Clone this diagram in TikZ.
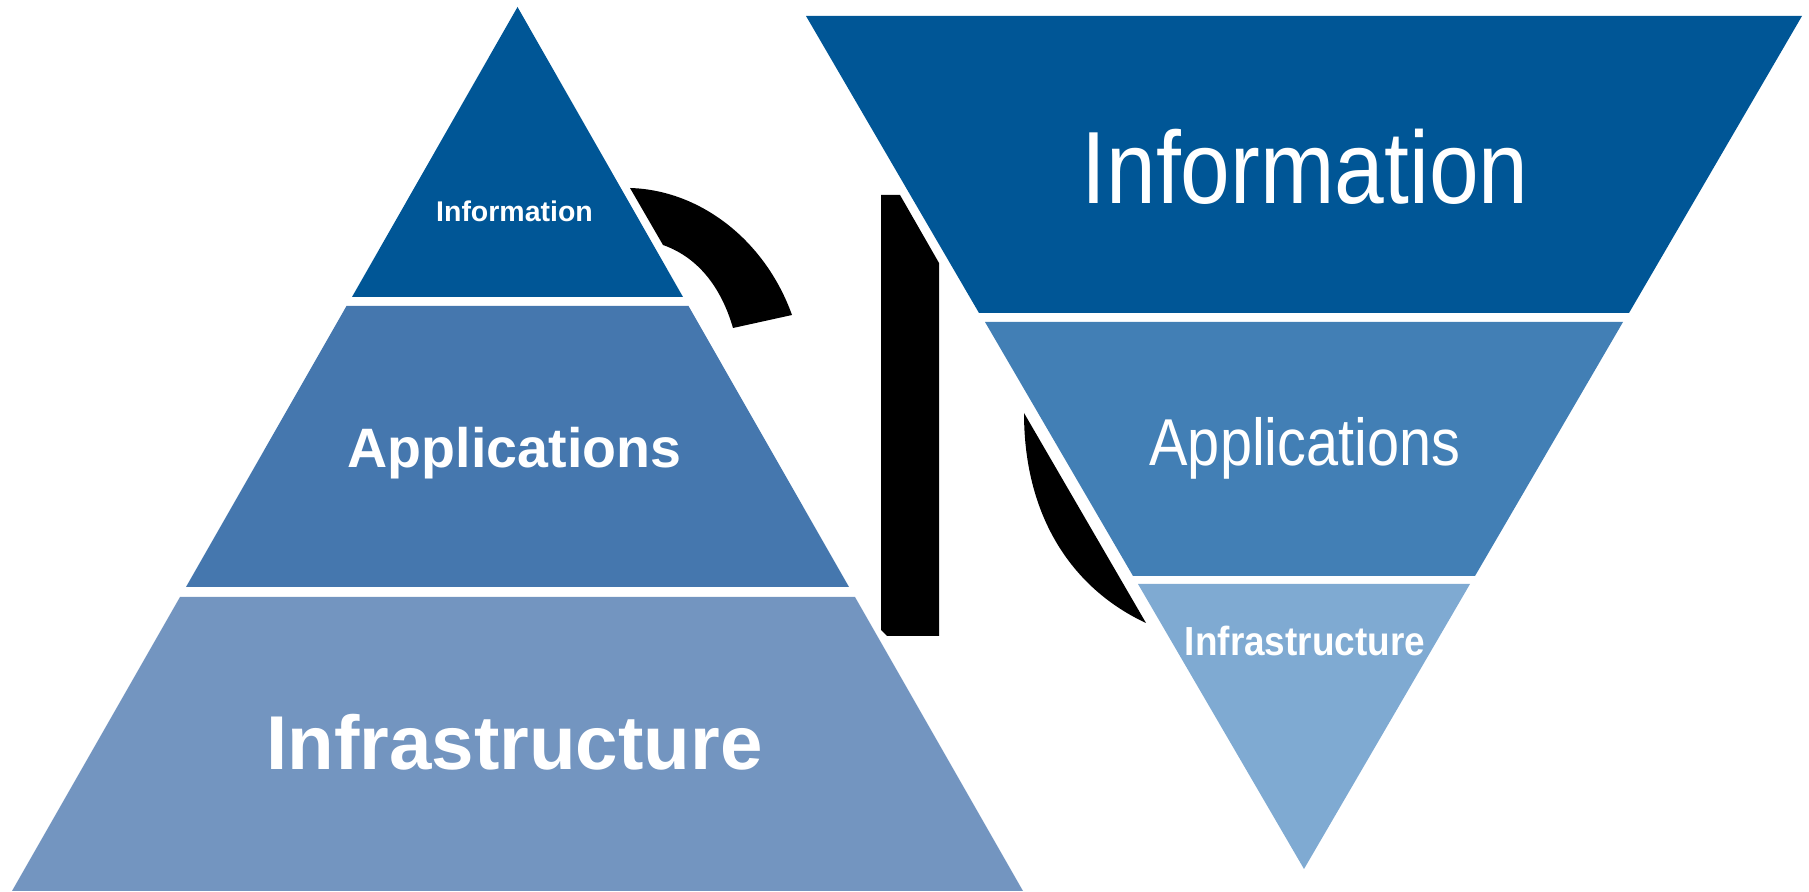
\documentclass[tikz,border=0pt]{standalone}
\usepackage{fontspec}
\setmainfont{Liberation Sans}
\usepackage{xcolor}
\usepackage{tikz}
\definecolor{infoblue}{RGB}{0,86,150}
\definecolor{pyrapp}{RGB}{69,119,174}
\definecolor{pyrinf}{RGB}{115,149,192}
\definecolor{funapp}{RGB}{66,127,181}
\definecolor{funinf}{RGB}{127,170,210}
\tikzstyle{layertext} = [text=white, inner sep=0pt, anchor=base]
\tikzstyle{swoosh} = [fill=black, draw=none]

\begin{document}
\begin{tikzpicture}[x=0.01cm, y=-0.01cm]
    \useasboundingbox (0,0) rectangle (1809,892);

    % Black pieces
    \path [swoosh] (630,188) .. controls (700,190) and (765,240) .. (792,315)
        -- (733,328) .. controls (722,290) and (700,258) .. (663,245) -- cycle;
    \path [swoosh] (881,195) -- (900,195) -- (939,263) -- (939,636)
        -- (887,636) -- (881,630) -- cycle;
    \path [swoosh] (1024,413) -- (1146,623)
        .. controls (1075,590) and (1024,520) .. (1024,413) -- cycle;

    % Pyramid
    \fill [infoblue] (517.5,7) -- (683,297) -- (352,297) -- cycle;
    \fill [pyrapp] (346.5,306) -- (688.5,306) -- (849,587) -- (186,587) -- cycle;
    \fill [pyrinf] (180,597) -- (855,597) -- (1023,891) -- (12,891) -- cycle;

    % Inverted pyramid
    \fill [infoblue] (806,16) -- (1802,16) -- (1629,313) -- (979,313) -- cycle;
    \fill [funapp] (985,322) -- (1623,322) -- (1475,576) -- (1133,576) -- cycle;
    \fill [funinf] (1138,584) -- (1470,584) -- (1304,869) -- cycle;

    % Nodes
    \node [layertext, font=\bfseries\fontsize{8.1}{9}\selectfont] (pyrinfo) at (514.5,222) {Information};
    \node [layertext, font=\bfseries\fontsize{15.8}{18}\selectfont] (pyrapps) at (514.5,468) {Applications};
    \node [layertext, font=\bfseries\fontsize{21.7}{25}\selectfont] (pyrinfra) at (514.5,770) {Infrastructure};
    \node [layertext, font=\fontsize{25.4}{29}\selectfont] (funinfo) at (1305,204) {\scalebox{1}[1.15]{Information}};
    \node [layertext, font=\fontsize{16.4}{19}\selectfont] (funapps) at (1305,466) {\scalebox{1}[1.15]{Applications}};
    \node [layertext, font=\bfseries\fontsize{10.5}{12}\selectfont] (funinfra) at (1305,656) {\scalebox{1}[1.1]{Infrastructure}};
\end{tikzpicture}
\end{document}
